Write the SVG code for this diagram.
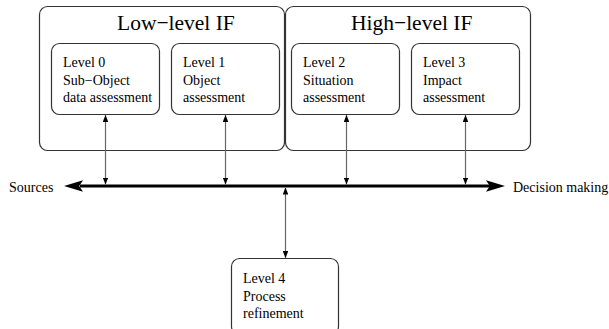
<svg xmlns="http://www.w3.org/2000/svg" width="609" height="329" viewBox="0 0 609 329">
<style>
  .box { fill: #fff; stroke: #333; stroke-width: 1.2; }
  text { font-family: 'Liberation Serif', 'DejaVu Serif', serif; fill: #000; }
  .t { font-size: 14px; }
  .title { font-size: 21.5px; }
  .v { stroke: #666; stroke-width: 1.2; fill: none; marker-start: url(#sa); marker-end: url(#sa); }
  .bus { stroke: #000; stroke-width: 3; fill: none; }
</style>
<defs>
  <marker id="sa" viewBox="0 0 10 8" refX="10" refY="4" markerWidth="7" markerHeight="5.6" markerUnits="userSpaceOnUse" orient="auto-start-reverse">
    <path d="M0,0 L10,4 L0,8 z" fill="#000"/>
  </marker>
  <marker id="ba" viewBox="0 0 20 12" refX="20" refY="6" markerWidth="19" markerHeight="11.4" markerUnits="userSpaceOnUse" orient="auto-start-reverse">
    <path d="M0,0 L20,6 L0,12 L4,6 z" fill="#000"/>
  </marker>
</defs>
<rect width="609" height="329" fill="#fff"/>

<g id="low-level-if">
  <rect class="box" x="39.5" y="6.5" width="245" height="144" rx="8"/>
  <text class="title" x="117" y="30">Low−level IF</text>
</g>
<g id="high-level-if">
  <rect class="box" x="285.5" y="6.5" width="245" height="144" rx="8"/>
  <text class="title" x="351" y="30">High−level IF</text>
</g>

<g id="level0">
  <rect class="box" x="51.5" y="43.5" width="108" height="71" rx="8"/>
  <text class="t" x="63" y="67">Level 0</text>
  <text class="t" x="63" y="84.5">Sub−Object</text>
  <text class="t" x="63" y="102">data assessment</text>
</g>
<g id="level1">
  <rect class="box" x="171.5" y="43.5" width="108" height="71" rx="8"/>
  <text class="t" x="183" y="67">Level 1</text>
  <text class="t" x="183" y="84.5">Object</text>
  <text class="t" x="183" y="102">assessment</text>
</g>
<g id="level2">
  <rect class="box" x="291.5" y="43.5" width="108" height="71" rx="8"/>
  <text class="t" x="303" y="67">Level 2</text>
  <text class="t" x="303" y="84.5">Situation</text>
  <text class="t" x="303" y="102">assessment</text>
</g>
<g id="level3">
  <rect class="box" x="411.5" y="43.5" width="108" height="71" rx="8"/>
  <text class="t" x="423" y="67">Level 3</text>
  <text class="t" x="423" y="84.5">Impact</text>
  <text class="t" x="423" y="102">assessment</text>
</g>
<g id="level4">
  <rect class="box" x="231.5" y="258.5" width="107" height="76" rx="8"/>
  <text class="t" x="243" y="283">Level 4</text>
  <text class="t" x="243" y="300.5">Process</text>
  <text class="t" x="243" y="318">refinement</text>
</g>

<g id="sources">
  <text class="t" x="9" y="191.5">Sources</text>
</g>
<g id="decision-making">
  <text class="t" x="513" y="191.5">Decision making</text>
</g>

<g id="connectors">
  <line class="bus" x1="80" y1="186" x2="490" y2="186"/>
  <line x1="83" y1="186" x2="64" y2="186" stroke="none" marker-end="url(#ba)"/>
  <line x1="486" y1="186" x2="505" y2="186" stroke="none" marker-end="url(#ba)"/>
  <line class="v" x1="105.5" y1="115" x2="105.5" y2="184.5"/>
  <line class="v" x1="225.5" y1="115" x2="225.5" y2="184.5"/>
  <line class="v" x1="346.5" y1="115" x2="346.5" y2="184.5"/>
  <line class="v" x1="465.5" y1="115" x2="465.5" y2="184.5"/>
  <line class="v" x1="285.5" y1="187.5" x2="285.5" y2="258"/>
</g>
</svg>
